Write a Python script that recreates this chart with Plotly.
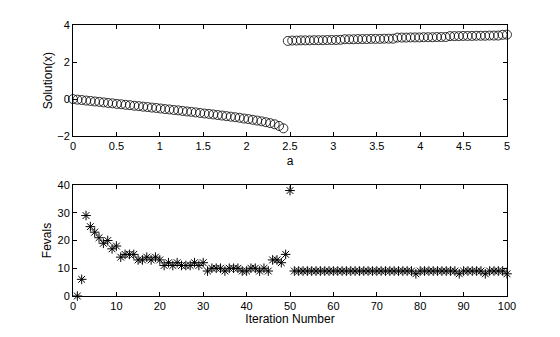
import plotly.graph_objects as go
from plotly.subplots import make_subplots

# ---------------- data ----------------
n_points = 100
a_start, a_end = 0.0, 5.0
a_values = [a_start + i * (a_end - a_start) / (n_points - 1) for i in range(n_points)]

solution_lower = [
    0.00, -0.03, -0.05, -0.08, -0.10, -0.13, -0.15, -0.18, -0.21, -0.23,
    -0.26, -0.28, -0.31, -0.33, -0.36, -0.38, -0.41, -0.43, -0.46, -0.48,
    -0.51, -0.54, -0.56, -0.59, -0.61, -0.64, -0.67, -0.69, -0.72, -0.75,
    -0.78, -0.80, -0.83, -0.86, -0.89, -0.92, -0.95, -0.98, -1.01, -1.05,
    -1.08, -1.12, -1.16, -1.20, -1.25, -1.30, -1.36, -1.45, -1.58,
]
solution_upper = [
    3.14,
    3.16, 3.16, 3.17, 3.17, 3.17, 3.18, 3.18, 3.18, 3.19, 3.19, 3.19, 3.20,
    3.23, 3.23, 3.23, 3.24, 3.24, 3.24, 3.25, 3.25, 3.25, 3.26, 3.26, 3.26,
    3.32, 3.32, 3.32, 3.33, 3.33, 3.33, 3.34, 3.34, 3.34, 3.35, 3.35, 3.35,
    3.40, 3.40, 3.40, 3.41, 3.41, 3.41, 3.42, 3.42, 3.42, 3.43, 3.43, 3.43,
    3.47, 3.48,
]
solution_x = solution_lower + solution_upper

iterations = list(range(1, 101))
fevals = [
    0, 6, 29, 25, 23, 21, 19, 20, 17, 18,
    14, 15, 15, 15, 13, 13, 14, 13, 14, 13,
    11, 12, 11, 12, 11, 11, 11, 12, 11, 12,
    9, 10, 10, 10, 9, 10, 10, 10, 9, 9,
    10, 10, 9, 10, 9, 13, 13, 12, 15, 38,
    9, 9, 9, 9, 9, 9, 9, 9, 9, 9,
    9, 9, 9, 9, 9, 9, 9, 9, 9, 9,
    9, 9, 9, 9, 9, 9, 9, 9, 8, 9,
    9, 9, 9, 9, 9, 9, 9, 9, 8, 9,
    9, 9, 9, 9, 8, 9, 9, 9, 9, 8,
]

top_xticks = [0, 0.5, 1, 1.5, 2, 2.5, 3, 3.5, 4, 4.5, 5]
top_xticklabels = ["0", "0.5", "1", "1.5", "2", "2.5", "3", "3.5", "4", "4.5", "5"]
top_yticks = [-2, 0, 2, 4]
bottom_xticks = list(range(0, 101, 10))
bottom_yticks = [0, 10, 20, 30, 40]

# ---------------- figure ----------------
fig = make_subplots(rows=2, cols=1)

fig.add_trace(go.Scatter(
    x=a_values, y=solution_x, mode="markers",
    marker=dict(symbol="circle-open", size=9, color="black", line=dict(width=0.8, color="black")),
    cliponaxis=False, showlegend=False,
), row=1, col=1)

fig.add_trace(go.Scatter(
    x=iterations, y=fevals, mode="markers",
    marker=dict(symbol="asterisk-open", size=8, color="black", line=dict(width=1, color="black")),
    cliponaxis=False, showlegend=False,
), row=2, col=1)

font_family = "Liberation Sans, Arial, Helvetica, sans-serif"
axis_common = dict(
    showline=True, linecolor="black", linewidth=1, mirror="ticks",
    ticks="inside", ticklen=4, tickwidth=1, tickcolor="black",
    showgrid=False, zeroline=False,
    tickfont=dict(family=font_family, size=11, color="black"),
)

fig.update_layout(
    width=560, height=337,
    margin=dict(l=72.7, r=53, t=25, b=41, autoexpand=False),
    paper_bgcolor="white", plot_bgcolor="white",
    font=dict(family=font_family, size=11, color="black"),
    xaxis=dict(domain=[0, 1], range=[0, 5], tickvals=top_xticks, ticktext=top_xticklabels,
               title=dict(text="a", standoff=5, font=dict(size=12)), **axis_common),
    yaxis=dict(domain=[0.590, 1], range=[-2, 4], tickvals=top_yticks,
               title=dict(text="Solution(x)", standoff=2, font=dict(size=12)), **axis_common),
    xaxis2=dict(domain=[0, 1], range=[0, 100], tickvals=bottom_xticks,
                title=dict(text="Iteration Number", standoff=3, font=dict(size=12)), **axis_common),
    yaxis2=dict(domain=[0, 0.4096], range=[0, 40], tickvals=bottom_yticks,
                title=dict(text="Fevals", standoff=3, font=dict(size=12)), **axis_common),
)

fig.write_html("out.html")
